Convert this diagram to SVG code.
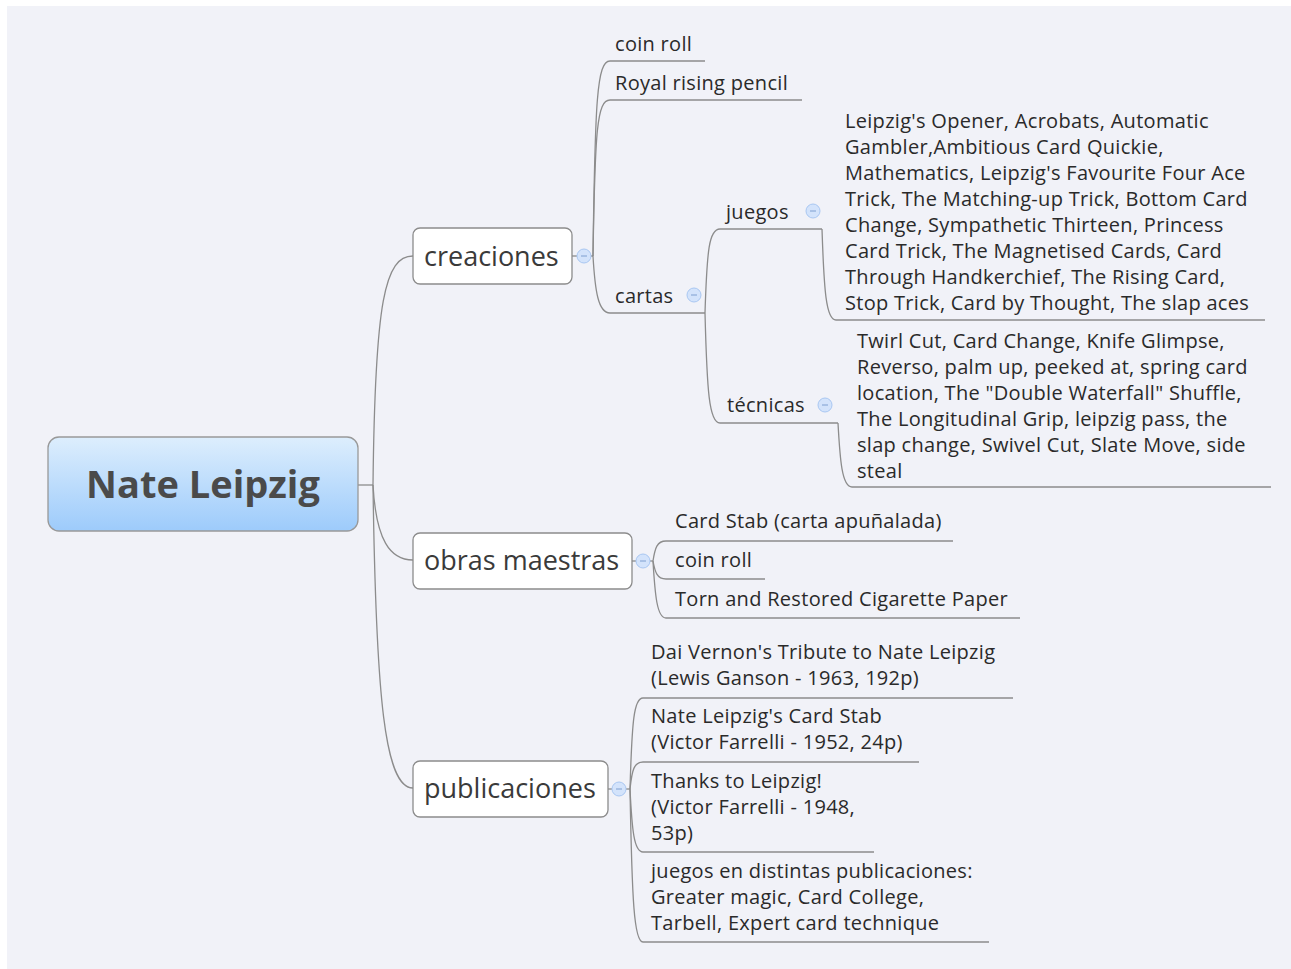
<svg xmlns="http://www.w3.org/2000/svg" width="1291" height="969" viewBox="0 0 1291 969">
<defs>
<linearGradient id="rootg" x1="0" y1="0" x2="0" y2="1">
<stop offset="0" stop-color="#ddeefd"/>
<stop offset="1" stop-color="#9dcbfb"/>
</linearGradient>
<style>
.bg{fill:#f1f2f8}
.ln{fill:none;stroke:#8c8c8c;stroke-width:1.3}
.box{fill:#ffffff;stroke:#8c8c8c;stroke-width:1.3}
.t{font-family:"Open Sans","DejaVu Sans",sans-serif;font-size:20px;letter-spacing:0.3px;fill:#2a2a2a}
.tt{font-family:"Open Sans","DejaVu Sans",sans-serif;font-size:27px;fill:#3a3a3a}
.rt{font-family:"Open Sans","DejaVu Sans",sans-serif;font-size:38px;font-weight:bold;fill:#4a4a4a}
.cc{fill:#d3e3fb;stroke:#a9c7f2;stroke-width:1}
.cm{stroke:#7f9fd0;stroke-width:1}
</style>
</defs>
<rect x="7" y="6" width="1284" height="963" class="bg"/>
<g id="connectors">
<path class="ln" d="M358,485 L373,485"/>
<path class="ln" d="M373,485 C375,300 385,256 413,256"/>
<path class="ln" d="M373,485 C376,540 390,560 413,560"/>
<path class="ln" d="M373,485 C376,700 385,788 413,788"/>
<path class="ln" d="M572,256 L577,256"/>
<path class="ln" d="M591,256 L593,256"/>
<path class="ln" d="M593,256 C595,100 597,61 610,61 L705,61"/>
<path class="ln" d="M593,256 C595,130 597,100 610,100 L802,100"/>
<path class="ln" d="M593,256 C595,290 598,313 610,313 L705,313"/>
<path class="ln" d="M705,313 C707,250 709,229 720,229 L822,229"/>
<path class="ln" d="M705,313 C707,390 709,423 720,423 L838,423"/>
<path class="ln" d="M822,229 C824,290 826,320 836,320 L1265,320"/>
<path class="ln" d="M838,423 C840,460 842,487 852,487 L1271,487"/>
<path class="ln" d="M632,561 L636,561"/>
<path class="ln" d="M650,561 L653,561"/>
<path class="ln" d="M653,561 C655,548 657,541 666,541 L953,541"/>
<path class="ln" d="M653,561 C655,572 657,579 666,579 L765,579"/>
<path class="ln" d="M653,561 C655,595 657,618 666,618 L1020,618"/>
<path class="ln" d="M608,789 L612,789"/>
<path class="ln" d="M626,789 L630,789"/>
<path class="ln" d="M630,789 C632,720 634,698 643,698 L1013,698"/>
<path class="ln" d="M630,789 C632,770 634,762 643,762 L919,762"/>
<path class="ln" d="M630,789 C632,830 634,852 643,852 L874,852"/>
<path class="ln" d="M630,789 C632,900 634,942 643,942 L989,942"/>
</g>
<g id="root">
<rect x="48" y="437" width="310" height="94" rx="11" fill="url(#rootg)" stroke="#999999" stroke-width="1.3"/>
<text class="rt" x="203" y="498" text-anchor="middle">Nate Leipzig</text>
</g>
<g id="creaciones">
<rect class="box" x="413" y="228" width="159" height="56" rx="7"/>
<text class="tt" x="424" y="266">creaciones</text>
<circle class="cc" cx="584" cy="256" r="7"/><path class="cm" d="M581,256 L587,256"/>
</g>
<g id="obras">
<rect class="box" x="413" y="533" width="219" height="56" rx="7"/>
<text class="tt" x="424" y="570">obras maestras</text>
<circle class="cc" cx="643" cy="561" r="7"/><path class="cm" d="M640,561 L646,561"/>
</g>
<g id="publicaciones">
<rect class="box" x="413" y="761" width="195" height="56" rx="7"/>
<text class="tt" x="424" y="798">publicaciones</text>
<circle class="cc" cx="619" cy="789" r="7"/><path class="cm" d="M616,789 L622,789"/>
</g>
<g id="coinroll1"><text class="t" x="615" y="51">coin roll</text></g>
<g id="royal"><text class="t" x="615" y="90">Royal rising pencil</text></g>
<g id="cartas">
<text class="t" x="615" y="303">cartas</text>
<circle class="cc" cx="694" cy="295" r="7"/><path class="cm" d="M691,295 L697,295"/>
</g>
<g id="juegos">
<text class="t" x="726" y="219">juegos</text>
<circle class="cc" cx="813" cy="211" r="7"/><path class="cm" d="M810,211 L816,211"/>
</g>
<g id="tecnicas">
<text class="t" x="727" y="412">técnicas</text>
<circle class="cc" cx="825" cy="405" r="7"/><path class="cm" d="M822,405 L828,405"/>
</g>
<g id="juegos-list">
<text class="t" x="845" y="128">Leipzig's Opener, Acrobats, Automatic</text>
<text class="t" x="845" y="154">Gambler,Ambitious Card Quickie,</text>
<text class="t" x="845" y="180">Mathematics, Leipzig's Favourite Four Ace</text>
<text class="t" x="845" y="206">Trick, The Matching-up Trick, Bottom Card</text>
<text class="t" x="845" y="232">Change, Sympathetic Thirteen, Princess</text>
<text class="t" x="845" y="258">Card Trick, The Magnetised Cards, Card</text>
<text class="t" x="845" y="284">Through Handkerchief, The Rising Card,</text>
<text class="t" x="845" y="310">Stop Trick, Card by Thought, The slap aces</text>
</g>
<g id="tecnicas-list">
<text class="t" x="857" y="348">Twirl Cut, Card Change, Knife Glimpse,</text>
<text class="t" x="857" y="374">Reverso, palm up, peeked at, spring card</text>
<text class="t" x="857" y="400">location, The "Double Waterfall" Shuffle,</text>
<text class="t" x="857" y="426">The Longitudinal Grip, leipzig pass, the</text>
<text class="t" x="857" y="452">slap change, Swivel Cut, Slate Move, side</text>
<text class="t" x="857" y="478">steal</text>
</g>
<g id="cardstab"><text class="t" x="675" y="528">Card Stab (carta apuñalada)</text></g>
<g id="coinroll2"><text class="t" x="675" y="567">coin roll</text></g>
<g id="torn"><text class="t" x="675" y="606">Torn and Restored Cigarette Paper</text></g>
<g id="pub1">
<text class="t" x="651" y="659">Dai Vernon's Tribute to Nate Leipzig</text>
<text class="t" x="651" y="685">(Lewis Ganson - 1963, 192p)</text>
</g>
<g id="pub2">
<text class="t" x="651" y="723">Nate Leipzig's Card Stab</text>
<text class="t" x="651" y="749">(Victor Farrelli - 1952, 24p)</text>
</g>
<g id="pub3">
<text class="t" x="651" y="788">Thanks to Leipzig!</text>
<text class="t" x="651" y="814">(Victor Farrelli - 1948,</text>
<text class="t" x="651" y="840">53p)</text>
</g>
<g id="pub4">
<text class="t" x="651" y="878">juegos en distintas publicaciones:</text>
<text class="t" x="651" y="904">Greater magic, Card College,</text>
<text class="t" x="651" y="930">Tarbell, Expert card technique</text>
</g>
</svg>
